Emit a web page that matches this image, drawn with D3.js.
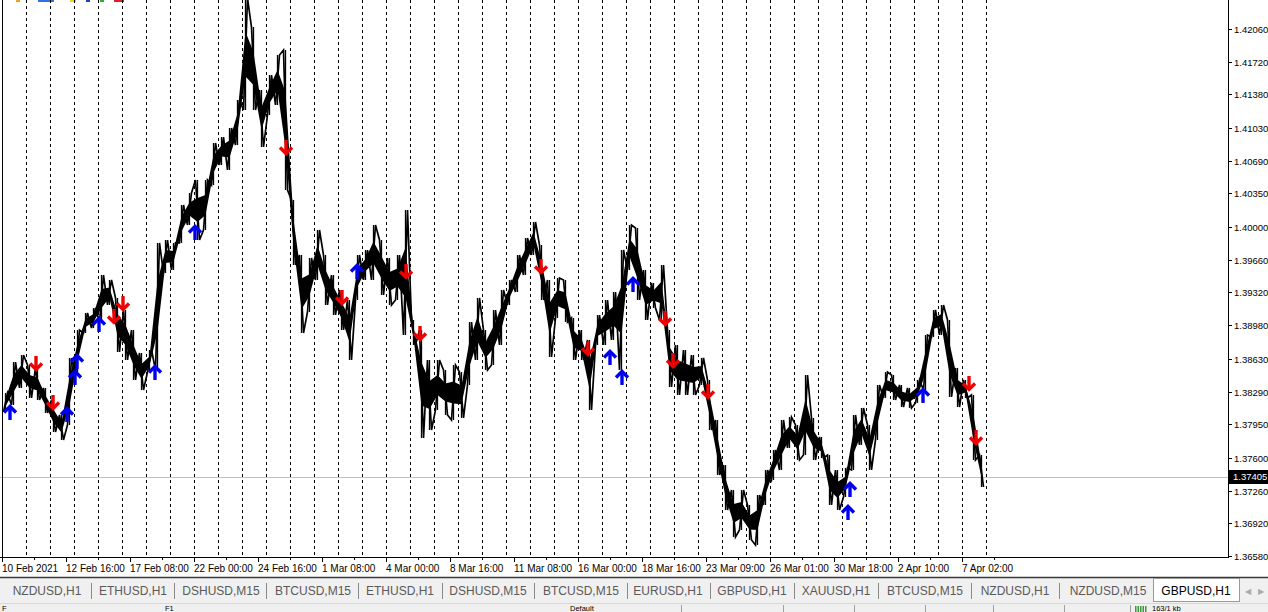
<!DOCTYPE html>
<html><head><meta charset="utf-8">
<script src="https://cdn.jsdelivr.net/npm/d3@7"></script>
<style>body{margin:0;background:#fff;overflow:hidden}svg{display:block}</style>
</head><body><svg id="c" width="1268" height="612"></svg>
<script>
// ---- data (GBPUSD H1, 8-hour blocks: high / low) ----
const barsPerBlock = 8;
const blockHigh = [1.38275,1.38597,1.38670,1.38566,1.38535,1.38327,1.38202,1.38046,1.38639,1.38930,
1.39107,1.39159,1.39502,1.39450,1.39263,1.39138,1.38930,1.38691,1.38722,1.39835,
1.39866,1.39835,1.40230,1.40355,1.40490,1.40490,1.40875,1.40937,1.41031,1.41322,
1.42380,1.42081,1.41426,1.41582,1.41790,1.41842,1.40282,1.39710,1.39679,1.39970,
1.39710,1.39502,1.39346,1.39242,1.39710,1.39762,1.40022,1.39866,1.39679,1.39710,
1.40178,1.39034,1.38930,1.38618,1.38618,1.38514,1.38566,1.38493,1.39013,1.39263,
1.38930,1.39138,1.39346,1.39450,1.39710,1.39887,1.40053,1.39814,1.39450,1.39471,
1.39450,1.39055,1.38930,1.38826,1.39086,1.39242,1.39325,1.39762,1.40022,1.39991,
1.39554,1.39419,1.39606,1.38930,1.38774,1.38722,1.38670,1.38639,1.38410,1.37994,
1.37526,1.37266,1.37266,1.37110,1.37214,1.37474,1.37682,1.37994,1.38025,1.37942,
1.38462,1.38015,1.37817,1.37630,1.37474,1.37495,1.38046,1.38119,1.37942,1.38358,
1.38493,1.38462,1.38358,1.38327,1.38410,1.38878,1.39138,1.39190,1.39034,1.38535,
1.38410,1.38254,1.37630];
const blockLow = [1.38077,1.38150,1.38327,1.38223,1.38202,1.38067,1.37869,1.37786,1.37942,1.38462,
1.38899,1.38951,1.39013,1.39190,1.38701,1.38618,1.38410,1.38306,1.38493,1.38514,
1.39523,1.39554,1.39835,1.40022,1.39866,1.39970,1.40438,1.40646,1.40594,1.40854,
1.41218,1.41218,1.40833,1.41166,1.41270,1.40386,1.39606,1.38899,1.39117,1.39450,
1.39190,1.39086,1.38930,1.38618,1.39242,1.39450,1.39450,1.39294,1.39190,1.39242,
1.38878,1.38774,1.37807,1.37890,1.38098,1.38046,1.37994,1.38015,1.38358,1.38618,
1.38514,1.38566,1.38774,1.39190,1.39325,1.39502,1.39710,1.39242,1.38649,1.39055,
1.39013,1.38618,1.38618,1.38098,1.38774,1.38774,1.38826,1.38514,1.39554,1.39242,
1.39034,1.39159,1.39034,1.38337,1.38254,1.38254,1.38254,1.38358,1.37890,1.37422,
1.37058,1.36777,1.36850,1.36746,1.36694,1.37110,1.37370,1.37474,1.37703,1.37578,
1.37630,1.37578,1.37599,1.37110,1.37058,1.37193,1.37474,1.37734,1.37474,1.37786,
1.38223,1.38202,1.38129,1.38119,1.38171,1.38306,1.38857,1.38878,1.38233,1.38129,
1.38223,1.37578,1.37297];
const lastBar = 980;
const lastPrice = 1.37405;

const buyBars   = [8,65,73,75,97,153,193,355,608,620,631,846,848,921];
const buyPrices = [1.38067,1.38046,1.38431,1.38597,1.38982,1.38483,1.39939,1.39533,1.38639,1.38431,1.39398,1.37027,1.37266,1.38244];
const sellBars   = [34,51,112,121,284,340,404,418,539,586,663,671,706,967,974];
const sellPrices = [1.38587,1.38181,1.39076,1.39211,1.40833,1.39273,1.39544,1.38899,1.39596,1.38743,1.39055,1.38618,1.38296,1.38379,1.37817];

const priceTicks = ["1.42060","1.41720","1.41380","1.41030","1.40690","1.40350","1.40000","1.39660","1.39320",
"1.38980","1.38630","1.38290","1.37950","1.37600","1.37260","1.36920","1.36580"];
const timeLabels = ["10 Feb 2021","12 Feb 16:00","17 Feb 08:00","22 Feb 00:00","24 Feb 16:00","1 Mar 08:00",
"4 Mar 00:00","8 Mar 16:00","11 Mar 08:00","16 Mar 00:00","18 Mar 16:00","23 Mar 09:00","26 Mar 01:00",
"30 Mar 18:00","2 Apr 10:00","7 Apr 02:00"];
const barsPerLabel = 64;
const barsPerDay = 24;
const dayCount = 41;
const tabs = ["NZDUSD,H1","ETHUSD,H1","DSHUSD,M15","BTCUSD,M15","ETHUSD,H1","DSHUSD,M15","BTCUSD,M15",
"EURUSD,H1","GBPUSD,H1","XAUUSD,H1","BTCUSD,M15","NZDUSD,H1","NZDUSD,M15"];
const activeTab = "GBPUSD,H1";
const statusTexts = ["F","F1","Default","163/1 kb"];

// ---- layout ----
const svg = d3.select("#c");
const plotL = 2, plotR = 1228, plotB = 557;
const x = d3.scaleLinear().domain([0, plotR - plotL]).range([plotL, plotR]);
const y = d3.scaleLinear().domain([1.36569, 1.42362]).range([plotB, 0]);
const FONT = "'Liberation Sans', Arial, sans-serif";

svg.append("rect").attr("width",1268).attr("height",612).attr("fill","#fff");
svg.append("clipPath").attr("id","plot").append("rect")
  .attr("x",plotL).attr("y",0).attr("width",plotR-plotL).attr("height",plotB);

// toolbar remnants at top-left
const tb = [["#f0a020",16,4],["#3070e0",38,16],["#f0d020",70,6],["#2040c0",86,4],["#30b030",100,4],["#e02020",114,10]];
tb.forEach(d=>svg.append("rect").attr("x",d[1]).attr("y",0).attr("width",d[2]).attr("height",2).attr("fill",d[0]));

// period separators
const seps = d3.range(1, dayCount+1).map(d=>d*barsPerDay);
svg.append("g").selectAll("line").data(seps).join("line")
  .attr("x1",d=>Math.round(x(d))+0.5).attr("x2",d=>Math.round(x(d))+0.5)
  .attr("y1",0).attr("y2",plotB)
  .attr("stroke","#000").attr("stroke-width",1).attr("stroke-dasharray","3,3");

// current price line
svg.append("line").attr("x1",0).attr("x2",plotR).attr("y1",Math.round(y(lastPrice))+0.5).attr("y2",Math.round(y(lastPrice))+0.5)
  .attr("stroke","#c0c0c0");

// price series
const g = svg.append("g").attr("clip-path","url(#plot)");
const pts = [];
blockHigh.forEach((h,k)=>{
  const l = blockLow[k];
  const mid = (h+l)/2;
  const prev = k ? (blockHigh[k-1]+blockLow[k-1])/2 : mid;
  const a = k*barsPerBlock+1.5, b = k*barsPerBlock+5.5;
  if (mid >= prev) pts.push([a,l],[b,h]); else pts.push([a,h],[b,l]);
});
pts.push([lastBar, lastPrice]);
const core = blockHigh.map((h,k)=>{
  const l = blockLow[k], m=(h+l)/2, r=(h-l)*0.2;
  return {b:k*barsPerBlock+3.5, hi:m+r, lo:m-r};
});
g.append("path").datum(core)
  .attr("d", d3.area().x(d=>x(d.b)).y0(d=>y(d.lo)).y1(d=>y(d.hi)))
  .attr("fill","#000");
g.append("path").datum(pts)
  .attr("d", d3.line().x(d=>x(d[0])).y(d=>y(d[1])))
  .attr("fill","none").attr("stroke","#000").attr("stroke-width",1.7).attr("stroke-linejoin","miter");
g.append("g").selectAll("line").data(blockHigh).join("line")
  .attr("x1",(d,k)=>x(k*barsPerBlock+3.5)).attr("x2",(d,k)=>x(k*barsPerBlock+3.5))
  .attr("y1",d=>y(d)).attr("y2",(d,k)=>y(blockLow[k]))
  .attr("stroke","#000").attr("stroke-width",1.3);

// arrows
function arrow(sel, up, color){
  const s = up ? 1 : -1;
  sel.append("path").attr("d",`M-6,${-0.5*s} L0,${-6.5*s} L6,${-0.5*s}`)
    .attr("fill","none").attr("stroke",color).attr("stroke-width",3.4).attr("stroke-linecap","butt");
  sel.append("line").attr("x1",0).attr("x2",0).attr("y1",-5.5*s).attr("y2",7*s)
    .attr("stroke",color).attr("stroke-width",3.4);
}
buyBars.forEach((b,i)=>{
  const s = svg.append("g").attr("transform",`translate(${x(b)},${y(buyPrices[i])})`);
  arrow(s,true,"#0000f0");
});
sellBars.forEach((b,i)=>{
  const s = svg.append("g").attr("transform",`translate(${x(b)},${y(sellPrices[i])})`);
  arrow(s,false,"#f00000");
});

// frame
svg.append("line").attr("x1",plotL+0.5).attr("x2",plotL+0.5).attr("y1",0).attr("y2",plotB).attr("stroke","#000");
svg.append("line").attr("x1",plotR+0.5).attr("x2",plotR+0.5).attr("y1",0).attr("y2",plotB+0.5).attr("stroke","#000");
svg.append("line").attr("x1",0).attr("x2",plotR+1).attr("y1",plotB+0.5).attr("y2",plotB+0.5).attr("stroke","#000");

// price axis
const pa = svg.append("g");
priceTicks.forEach(t=>{
  const yy = Math.round(y(+t))+0.5;
  pa.append("line").attr("x1",plotR).attr("x2",plotR+4).attr("y1",yy).attr("y2",yy).attr("stroke","#000");
  pa.append("text").attr("x",plotR+6).attr("y",yy).attr("dy","0.35em")
    .attr("font-family",FONT).attr("font-size",9.5).attr("fill","#000").text(t);
});
const ly = Math.round(y(lastPrice));
svg.append("rect").attr("x",plotR+1).attr("y",ly-7).attr("width",39).attr("height",14).attr("fill","#000");
svg.append("text").attr("x",plotR+5).attr("y",ly).attr("dy","0.35em")
  .attr("font-family",FONT).attr("font-size",9.5).attr("fill","#fff").text(lastPrice.toFixed(5));

// time axis
const ta = svg.append("g");
d3.range(0, 32).forEach(i=>{
  const xx = Math.round(x(i*barsPerLabel/2))+0.5;
  ta.append("line").attr("x1",xx).attr("x2",xx).attr("y1",plotB).attr("y2",plotB+(i%2?3:5)).attr("stroke","#000");
});
timeLabels.forEach((t,i)=>{
  ta.append("text").attr("x",x(i*barsPerLabel)).attr("y",572)
    .attr("font-family",FONT).attr("font-size",10).attr("fill","#000").text(t);
});

// tab bar
svg.append("rect").attr("x",0).attr("y",578).attr("width",1268).attr("height",25).attr("fill","#f0f0f0");
svg.append("line").attr("x1",0).attr("x2",1268).attr("y1",577.5).attr("y2",577.5).attr("stroke","#3a3a3a").attr("stroke-width",1.5);
const tabCenters = [47,133,221,313,400,488,581,668,752,836,925,1015,1108];
const sepX = [91,174,266,358,442,534,627,710,794,878,971,1059];
tabs.forEach((t,i)=>{
  svg.append("text").attr("x",tabCenters[i]).attr("y",591).attr("dy","0.35em").attr("text-anchor","middle")
    .attr("font-family",FONT).attr("font-size",12).attr("fill","#5a5a5a").text(t);
});
sepX.forEach(s=>svg.append("line").attr("x1",s+0.5).attr("x2",s+0.5).attr("y1",583).attr("y2",599).attr("stroke","#8a8a8a"));
svg.append("rect").attr("x",1153.5).attr("y",578.5).attr("width",86).attr("height",23).attr("fill","#fff").attr("stroke","#9a9a9a");
svg.append("text").attr("x",1196).attr("y",591).attr("dy","0.35em").attr("text-anchor","middle")
  .attr("font-family",FONT).attr("font-size",12).attr("fill","#000").text(activeTab);
svg.append("text").attr("x",1248).attr("y",591).attr("dy","0.35em").attr("text-anchor","middle").attr("font-size",8).attr("fill","#aaa").attr("font-family",FONT).text("◀");
svg.append("text").attr("x",1261).attr("y",591).attr("dy","0.35em").attr("text-anchor","middle").attr("font-size",8).attr("fill","#aaa").attr("font-family",FONT).text("▶");

// status bar
svg.append("rect").attr("x",0).attr("y",603).attr("width",1268).attr("height",9).attr("fill","#f0f0f0");
svg.append("line").attr("x1",0).attr("x2",1268).attr("y1",603.5).attr("y2",603.5).attr("stroke","#d8d8d8");
const statusX = [2,165,570,1152];
statusTexts.forEach((t,i)=>
  svg.append("text").attr("x",statusX[i]).attr("y",610.5).attr("font-family",FONT).attr("font-size",7.5).attr("fill","#000").text(t));
[681,783,854,925,993,1064,1130].forEach(s=>svg.append("line").attr("x1",s+0.5).attr("x2",s+0.5).attr("y1",605).attr("y2",612).attr("stroke","#a0a0a0"));
d3.range(5).forEach(i=>svg.append("rect").attr("x",1135+i*2.5).attr("y",606).attr("width",1.5).attr("height",6).attr("fill","#3a9a3a"));
</script></body></html>
